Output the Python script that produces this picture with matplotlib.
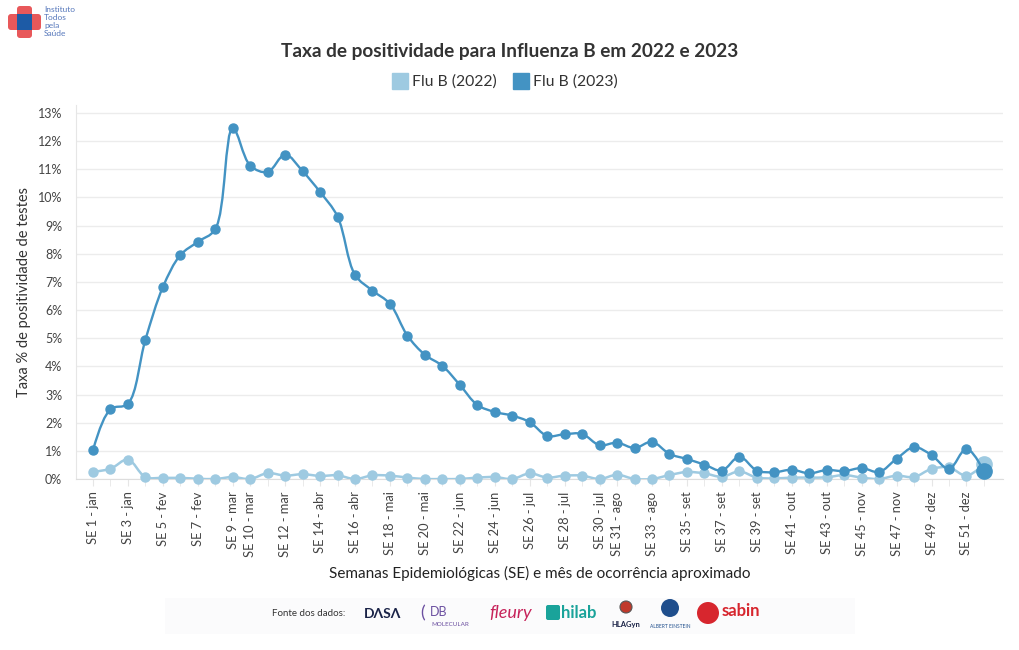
import numpy as np
import matplotlib
matplotlib.use('Agg')
import matplotlib.pyplot as plt
from matplotlib.path import Path
from matplotlib.patches import PathPatch, Rectangle, FancyBboxPatch, Circle
from matplotlib.lines import Line2D

plt.rcParams['font.family'] = ['Lato', 'DejaVu Sans']

# ---------------------------------------------------------------- data
weeks = list(range(1, 53))
months = ['jan', 'jan', 'jan', 'jan', 'fev', 'fev', 'fev', 'fev',
          'mar', 'mar', 'mar', 'mar', 'abr', 'abr', 'abr', 'abr', 'abr',
          'mai', 'mai', 'mai', 'mai', 'jun', 'jun', 'jun', 'jun',
          'jul', 'jul', 'jul', 'jul', 'jul', 'ago', 'ago', 'ago', 'ago',
          'set', 'set', 'set', 'set', 'set', 'out', 'out', 'out', 'out',
          'nov', 'nov', 'nov', 'nov', 'dez', 'dez', 'dez', 'dez', 'dez']
shown_weeks = [1, 3, 5, 7, 9, 10, 12, 14, 16, 18, 20, 22, 24, 26, 28, 30,
               31, 33, 35, 37, 39, 41, 43, 45, 47, 49, 51]

flu_2022 = [0.26, 0.36, 0.69, 0.07, 0.04, 0.04, 0.01, 0.00, 0.07, 0.00,
            0.21, 0.12, 0.17, 0.11, 0.13, 0.00, 0.13, 0.12, 0.05, 0.00,
            0.00, 0.00, 0.05, 0.07, 0.00, 0.20, 0.05, 0.12, 0.12, 0.00,
            0.15, 0.00, 0.00, 0.14, 0.25, 0.20, 0.08, 0.27, 0.05, 0.02,
            0.05, 0.05, 0.06, 0.14, 0.05, 0.00, 0.12, 0.07, 0.36, 0.41,
            0.12, 0.53]
flu_2023 = [1.02, 2.48, 2.67, 4.94, 6.81, 7.95, 8.42, 8.87, 12.46, 11.13,
            10.90, 11.52, 10.93, 10.19, 9.32, 7.25, 6.69, 6.22, 5.09, 4.41,
            4.02, 3.34, 2.63, 2.38, 2.25, 2.02, 1.53, 1.59, 1.60, 1.20,
            1.29, 1.10, 1.32, 0.89, 0.71, 0.51, 0.30, 0.79, 0.30, 0.24,
            0.33, 0.20, 0.32, 0.28, 0.39, 0.25, 0.72, 1.13, 0.85, 0.36,
            1.07, 0.27]

c22 = '#9ecae1'
c23 = '#4393c3'


def spline_path(x, y, sx, sy, smooth=1.0):
    # plotly-like spline, built in pixel-ish space then mapped back
    pts = np.column_stack([np.asarray(x, float) * sx, np.asarray(y, float) * sy])
    tans = []
    for i in range(1, len(pts) - 1):
        d1 = pts[i - 1] - pts[i]
        d2 = pts[i + 1] - pts[i]
        d1a = np.hypot(*d1) ** 0.5
        d2a = np.hypot(*d2) ** 0.5
        num = (d2a ** 2 * d1 - d1a ** 2 * d2) * smooth
        den1 = 3 * d2a * (d1a + d2a)
        den2 = 3 * d1a * (d1a + d2a)
        tans.append((pts[i] + num / den1, pts[i] - num / den2))
    verts = [pts[0], tans[0][0], pts[1]]
    codes = [Path.MOVETO, Path.CURVE3, Path.CURVE3]
    for i in range(2, len(pts) - 1):
        verts += [tans[i - 2][1], tans[i - 1][0], pts[i]]
        codes += [Path.CURVE4] * 3
    verts += [tans[-1][1], pts[-1]]
    codes += [Path.CURVE3] * 2
    verts = np.array(verts) / [sx, sy]
    return Path(verts, codes)


# ---------------------------------------------------------------- figure
fig = plt.figure(figsize=(10.2, 6.5), dpi=100)
ax = fig.add_axes([76 / 1020, (650 - 479) / 650, (1003 - 76) / 1020, (479 - 105) / 650])
ax.set_xlim(0.03, 53.09)
ax.set_ylim(0, 13.28)

sx, sy = 17.47, 28.15
ax.add_patch(PathPatch(spline_path(weeks, flu_2022, sx, sy), fill=False,
                       edgecolor=c22, lw=1.8, zorder=3))
ax.plot(weeks[:-1], flu_2022[:-1], 'o', color=c22, ms=6.5, zorder=4, clip_on=False)
ax.plot(weeks[-1:], flu_2022[-1:], 'o', color=c22, ms=11, zorder=4, clip_on=False)

ax.add_patch(PathPatch(spline_path(weeks, flu_2023, sx, sy), fill=False,
                       edgecolor=c23, lw=1.7, zorder=5))
ax.plot(weeks[:-1], flu_2023[:-1], 'o', color=c23, ms=6.5, zorder=6, clip_on=False)
ax.plot(weeks[-1:], flu_2023[-1:], 'o', color=c23, ms=11, zorder=6, clip_on=False)

# axes styling
ax.set_yticks(range(0, 14))
ax.set_yticklabels([f'{v}%' for v in range(0, 14)], fontsize=9, color='#444444')
ax.grid(axis='y', color='#ececec', lw=1)
ax.set_axisbelow(True)
ax.tick_params(axis='y', length=0, pad=10)

labels = {w: f'SE {w} - {m}' for w, m in zip(weeks, months)}
ax.set_xticks(shown_weeks)
ax.set_xticklabels([labels[w] for w in shown_weeks], rotation=90, fontsize=9.3,
                   color='#444444', va='top', ha='center')
ax.set_xticks(weeks, minor=True)
ax.tick_params(axis='x', which='both', length=5, color='#e6e6e6', pad=4)

for s in ['top', 'right']:
    ax.spines[s].set_visible(False)
ax.spines['left'].set_color('#e6e6e6')
ax.spines['bottom'].set_color('#dddddd')

ax.set_ylabel('Taxa % de positividade de testes', fontsize=10.5, color='#333333', labelpad=5)
fig.text(540 / 1020, 1 - 573 / 650, 'Semanas Epidemiológicas (SE) e mês de ocorrência aproximado',
         ha='center', va='center', fontsize=11, color='#222222')

fig.text(510 / 1020, 1 - 51 / 650, 'Taxa de positividade para Influenza B em 2022 e 2023',
         ha='center', va='center', fontsize=13.7, fontweight='bold', color='#333333')

handles = [Line2D([], [], marker='s', ls='none', color=c22, ms=11),
           Line2D([], [], marker='s', ls='none', color=c23, ms=11)]
fig.legend(handles, ['Flu B (2022)', 'Flu B (2023)'], loc='center',
           bbox_to_anchor=(505 / 1020, 1 - 82 / 650), ncol=2, frameon=False,
           fontsize=11.3, handletextpad=0.3, columnspacing=1.0, handlelength=1.0,
           labelcolor='#333333')

# ---------------------------------------------------------------- logos
lx = fig.add_axes([0, 0, 1, 1], zorder=-1)
lx.set_xlim(0, 1020)
lx.set_ylim(650, 0)
lx.axis('off')

# Instituto Todos pela Saude
lx.add_patch(FancyBboxPatch((17, 6), 15, 32, boxstyle='round,pad=0,rounding_size=3',
                            fc='#e8585a', ec='none'))
lx.add_patch(FancyBboxPatch((8, 14), 33, 16, boxstyle='round,pad=0,rounding_size=3',
                            fc='#e8585a', ec='none'))
lx.add_patch(Rectangle((17, 14), 15, 16, fc='#1d5ba6', ec='none'))
for i, t in enumerate(['Instituto', 'Todos', 'pela', 'Saúde']):
    lx.text(44, 9 + i * 8.3, t, fontsize=6, color='#5577bb', va='center')

# data sources band
lx.add_patch(Rectangle((165, 598), 690, 36, fc='#fbfbfc', ec='none'))
lx.text(272, 614, 'Fonte dos dados:', fontsize=7, color='#333333', va='center')
lx.text(364, 614, 'DΛSΛ', fontsize=10, fontweight='bold', color='#1a2347', va='center')
lx.text(420, 613, '(', fontsize=13, color='#6b4fa0', va='center')
lx.text(430, 612, 'DB', fontsize=9, color='#6b4fa0', va='center')
lx.text(431, 625, 'MOLECULAR', fontsize=4.5, color='#6b4fa0', va='center')
lx.text(489, 613, 'fleury', fontsize=13, style='italic', color='#c7235a', va='center')
lx.add_patch(FancyBboxPatch((546, 605), 14, 15, boxstyle='round,pad=0,rounding_size=2',
                            fc='#1aa39a', ec='none'))
lx.text(561, 613, 'hilab', fontsize=12, fontweight='bold', color='#1aa39a', va='center')
lx.add_patch(Circle((626, 607), 6, fc='#c0392b', ec='#555555', lw=0.8))
lx.text(626, 624, 'HLAGyn', fontsize=5.5, fontweight='bold', color='#1a2347', ha='center', va='center')
lx.add_patch(Circle((670, 608), 9, fc='#1f4e8c', ec='none'))
lx.text(670, 626, 'ALBERT EINSTEIN', fontsize=3.5, color='#1f4e8c', ha='center', va='center')
lx.add_patch(Circle((708, 613), 11, fc='#d7262e', ec='none'))
lx.text(722, 611, 'sabin', fontsize=12, fontweight='bold', color='#d7262e', va='center')

fig.savefig('out.png', dpi=100)
